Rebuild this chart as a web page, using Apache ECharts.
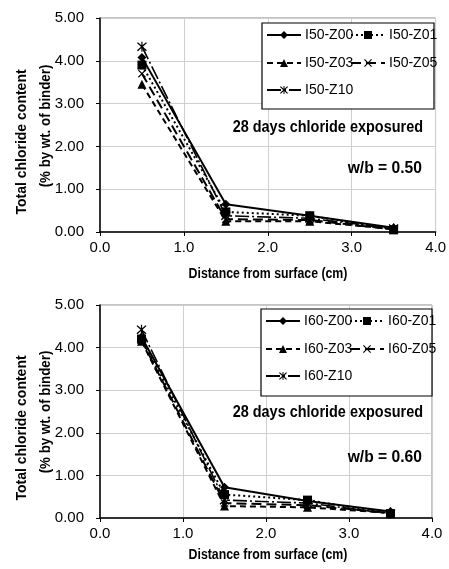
<!DOCTYPE html>
<html>
<head>
<meta charset="utf-8">
<script src="https://cdn.jsdelivr.net/npm/echarts@6/dist/echarts.min.js"></script>
<style>
html,body{margin:0;padding:0;background:#fff;}
#chart{width:449px;height:569px;}
</style>
</head>
<body>
<div id="chart"></div>
<script>
// ---- data ----
const xValues = [0.5, 1.5, 2.5, 3.5];
const xTicks = ['0.0', '1.0', '2.0', '3.0', '4.0'];
const yTicks = ['0.00', '1.00', '2.00', '3.00', '4.00', '5.00'];

const names050 = ['I50-Z00', 'I50-Z01', 'I50-Z03', 'I50-Z05', 'I50-Z10'];
const wb050_Z00 = [4.08, 0.65, 0.38, 0.10];
const wb050_Z01 = [3.90, 0.47, 0.38, 0.05];
const wb050_Z03 = [3.45, 0.25, 0.25, 0.07];
const wb050_Z05 = [3.70, 0.30, 0.28, 0.06];
const wb050_Z10 = [4.33, 0.38, 0.32, 0.08];

const names060 = ['I60-Z00', 'I60-Z01', 'I60-Z03', 'I60-Z05', 'I60-Z10'];
const wb060_Z00 = [4.25, 0.72, 0.40, 0.15];
const wb060_Z01 = [4.20, 0.55, 0.42, 0.10];
const wb060_Z03 = [4.15, 0.28, 0.25, 0.12];
const wb060_Z05 = [4.18, 0.35, 0.30, 0.12];
const wb060_Z10 = [4.42, 0.42, 0.35, 0.10];

const annotation = '28 days chloride exposured';
const wbLabels = ['w/b = 0.50', 'w/b = 0.60'];
const yTitle1 = 'Total chloride content';
const yTitle2 = '(% by wt. of binder)';
const xTitle = 'Distance from surface (cm)';

// ---- styles ----
const FONT = "'Liberation Sans Narrow', 'Liberation Sans', Arial, sans-serif";
const X_PATH = 'path://M1,0L5,4L9,0L10,1L6,5L10,9L9,10L5,6L1,10L0,9L4,5L0,1Z';
const STAR_PATH = 'path://M1,0L5,4L9,0L10,1L6,5L10,9L9,10L5,6L1,10L0,9L4,5L0,1Z M4.4,-0.5L5.6,-0.5L5.6,10.5L4.4,10.5Z';
const styles = [
  {symbol: 'diamond', symbolSize: 9, type: 'solid', width: 2},
  {symbol: 'rect', symbolSize: 9, type: [2, 3], width: 2},
  {symbol: 'triangle', symbolSize: 9, type: [6, 4], width: 2},
  {symbol: X_PATH, symbolSize: 8, type: [10, 5], width: 2},
  {symbol: STAR_PATH, symbolSize: 10, type: [14, 3, 2, 3], width: 1.6}
];

const grids = [
  {left: 100, right: 13, top: 18, height: 214},
  {left: 100, right: 17, top: 305, height: 213}
];

function makeAxes() {
  const xAxes = [], yAxes = [];
  grids.forEach((g, i) => {
    xAxes.push({
      type: 'value', gridIndex: i, min: 0, max: 4, interval: 1,
      axisLine: {show: true, onZero: false, lineStyle: {color: '#000', width: 1.5}},
      axisTick: {show: true, length: 4, lineStyle: {color: '#000'}},
      axisLabel: {color: '#000', fontFamily: FONT, fontSize: 15, margin: 8,
        formatter: v => xTicks[Math.round(v)]},
      splitLine: {show: true, lineStyle: {color: '#cfcfcf', width: 1}}
    });
    yAxes.push({
      type: 'value', gridIndex: i, min: 0, max: 5, interval: 1,
      axisLine: {show: true, onZero: false, lineStyle: {color: '#000', width: 1.5}},
      axisTick: {show: true, length: 4, lineStyle: {color: '#000'}},
      axisLabel: {color: '#000', fontFamily: FONT, fontSize: 15, margin: 16,
        formatter: v => yTicks[Math.round(v)]},
      splitLine: {show: true, lineStyle: {color: '#cfcfcf', width: 1}}
    });
  });
  return {xAxes, yAxes};
}

function makeSeries(names, datasets, gi) {
  return names.map((n, k) => ({
    name: n, type: 'line', xAxisIndex: gi, yAxisIndex: gi,
    data: xValues.map((x, j) => [x, datasets[k][j]]),
    symbol: styles[k].symbol, symbolSize: styles[k].symbolSize,
    showAllSymbol: true,
    itemStyle: {color: '#000'},
    lineStyle: {color: '#000', width: styles[k].width, type: styles[k].type},
    animation: false
  }));
}

function makeLegends(names, box) {
  const pos = [[box.x + 4, box.y + 12], [box.x + 88, box.y + 12],
               [box.x + 4, box.y + 40], [box.x + 88, box.y + 40],
               [box.x + 4, box.y + 67]];
  return names.map((n, k) => ({
    data: [n], left: pos[k][0], top: pos[k][1] - 7, orient: 'horizontal',
    width: 90, height: 16,
    itemWidth: 34, itemHeight: 10, itemGap: 0, padding: 0, z: 20,
    textStyle: {color: '#000', fontFamily: FONT, fontSize: 14, padding: [0, 0, 0, -1]},
    selectedMode: false
  }));
}

const boxes = [{x: 262, y: 23, w: 172, h: 86}, {x: 261, y: 309, w: 171, h: 87}];

const {xAxes, yAxes} = makeAxes();
const series = [].concat(
  makeSeries(names050, [wb050_Z00, wb050_Z01, wb050_Z03, wb050_Z05, wb050_Z10], 0),
  makeSeries(names060, [wb060_Z00, wb060_Z01, wb060_Z03, wb060_Z05, wb060_Z10], 1)
);
const legends = [].concat(makeLegends(names050, boxes[0]), makeLegends(names060, boxes[1]));

const graphics = [];
boxes.forEach(b => {
  graphics.push({type: 'rect', shape: {x: b.x, y: b.y, width: b.w, height: b.h},
    style: {fill: '#fff', stroke: '#000', lineWidth: 1.2}, z: 3});
});
const title1Y = [142, 428];
const title2Y = [126, 412];
const annY = [127, 412];
const wbY = [168, 457];
const xTitleY = [274, 555];
[0, 1].forEach(i => {
  graphics.push({type: 'text', x: 22, y: title1Y[i], rotation: Math.PI / 2, z: 10,
    style: {text: yTitle1, font: 'bold 14px ' + FONT, fill: '#000', textAlign: 'center', textVerticalAlign: 'middle'}});
  graphics.push({type: 'text', x: 46, y: title2Y[i], rotation: Math.PI / 2, scaleX: 0.95, z: 10,
    style: {text: yTitle2, font: 'bold 14px ' + FONT, fill: '#000', textAlign: 'center', textVerticalAlign: 'middle'}});
  graphics.push({type: 'text', x: 268, y: xTitleY[i], scaleX: 0.88, z: 10,
    style: {text: xTitle, font: 'bold 14px ' + FONT, fill: '#000', textAlign: 'center', textVerticalAlign: 'middle'}});
  graphics.push({type: 'text', x: 423, y: annY[i], scaleX: 0.85, z: 10,
    style: {text: annotation, font: 'bold 17px ' + FONT, fill: '#000', textAlign: 'right', textVerticalAlign: 'middle'}});
  graphics.push({type: 'text', x: 422, y: wbY[i], scaleX: 0.92, z: 10,
    style: {text: wbLabels[i], font: 'bold 17px ' + FONT, fill: '#000', textAlign: 'right', textVerticalAlign: 'middle'}});
});

const chart = echarts.init(document.getElementById('chart'), null, {renderer: 'canvas'});
chart.setOption({
  animation: false,
  backgroundColor: '#fff',
  grid: grids.map(g => Object.assign({show: true, borderColor: '#888', borderWidth: 1, backgroundColor: 'transparent'}, g)),
  xAxis: xAxes,
  yAxis: yAxes,
  legend: legends,
  graphic: graphics,
  series: series
});
</script>
</body>
</html>
